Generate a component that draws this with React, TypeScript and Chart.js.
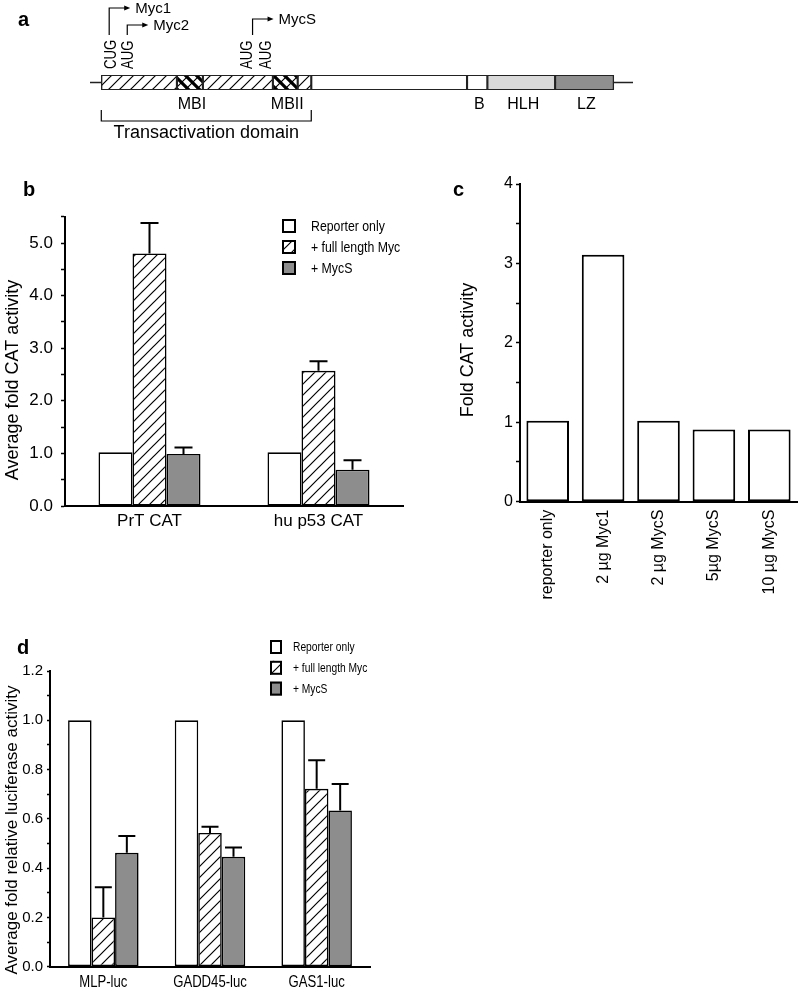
import React, { useEffect, useRef } from 'react';
import { Chart, registerables } from 'chart.js';

Chart.register(...registerables);

const SANS = 'Arial, "Liberation Sans", Helvetica, sans-serif';
const NARROW_SCALE = 0.82;
Chart.defaults.font.family = SANS;
Chart.defaults.color = '#000';

// ---------- Panel a: Myc protein schematic (positions in residues) ----------
const segmentStart = [0, 67, 90, 152, 174, 186, 324, 342, 402];
const segmentEnd = [67, 90, 152, 174, 186, 324, 342, 402, 454];
const segmentKind = ['hatch', 'motif', 'hatch', 'motif', 'hatch', 'plain', 'plain', 'light', 'dark'];
const segmentLabel = ['', 'MBI', '', 'MBII', '', '', 'B', 'HLH', 'LZ'];
const lineExtent = [-10, 471];
const codonLabels = ['CUG', 'AUG', 'AUG', 'AUG'];
const codonPos = [9, 24, 130, 146];
const productLabels = ['Myc1', 'Myc2', 'MycS'];
const productPos = [7, 23, 134];
const tadRange = [0, 186];
const tadLabel = 'Transactivation domain';

// ---------- Shared series ----------
const seriesNames = ['Reporter only', '+ full length Myc', '+ MycS'];

// ---------- Panel b ----------
const bCategories = ['PrT CAT', 'hu p53 CAT'];
const bReporter = [1.02, 1.02];
const bFull = [4.8, 2.57];
const bMycS = [0.99, 0.69];
const bFullErr = [0.58, 0.18];
const bMycSErr = [0.12, 0.18];
const bYMax = 5.5;
const bYStep = 0.5;
const bYTitle = 'Average fold CAT activity';

// ---------- Panel c ----------
const cCategories = ['reporter only', '2 \u00b5g Myc1', '2 \u00b5g MycS', '5\u00b5g MycS', '10 \u00b5g MycS'];
const cValues = [1.02, 3.11, 1.02, 0.91, 0.91];
const cYMax = 4;
const cYStep = 0.5;
const cYTitle = 'Fold CAT activity';

// ---------- Panel d ----------
const dCategories = ['MLP-luc', 'GADD45-luc', 'GAS1-luc'];
const dReporter = [1.0, 1.0, 1.0];
const dFull = [0.2, 0.543, 0.722];
const dMycS = [0.462, 0.446, 0.634];
const dFullErr = [0.122, 0.025, 0.116];
const dMycSErr = [0.068, 0.038, 0.107];
const dYMax = 1.2;
const dYStep = 0.1;
const dYTitle = 'Average fold relative luciferase activity';

const GRAY = '#8d8d8d';

function makePattern(kind: string): CanvasPattern {
  const s = 11;
  const c = document.createElement('canvas');
  c.width = s;
  c.height = s;
  const g = c.getContext('2d') as CanvasRenderingContext2D;
  g.fillStyle = '#fff';
  g.fillRect(0, 0, s, s);
  g.strokeStyle = '#000';
  g.lineWidth = 1.2;
  g.beginPath();
  g.moveTo(0, s);
  g.lineTo(s, 0);
  g.moveTo(-s / 2, s / 2);
  g.lineTo(s / 2, -s / 2);
  g.moveTo(s / 2, s * 1.5);
  g.lineTo(s * 1.5, s / 2);
  g.stroke();
  if (kind === 'motif') {
    g.lineWidth = 3.2;
    g.beginPath();
    g.moveTo(0, 0);
    g.lineTo(s, s);
    g.moveTo(-s / 2, s / 2);
    g.lineTo(s / 2, s * 1.5);
    g.moveTo(s / 2, -s / 2);
    g.lineTo(s * 1.5, s / 2);
    g.stroke();
  }
  return g.createPattern(c, 'repeat') as CanvasPattern;
}

// draw text, optionally condensed horizontally (narrow face) and rotated
function drawText(ctx: CanvasRenderingContext2D, t: string, x: number, y: number, font: string, align: CanvasTextAlign, sx = 1, rot = 0) {
  ctx.save();
  ctx.translate(x, y);
  if (rot) ctx.rotate(rot);
  if (sx !== 1) ctx.scale(sx, 1);
  ctx.font = font;
  ctx.fillStyle = '#000';
  ctx.textAlign = align;
  ctx.textBaseline = 'middle';
  ctx.fillText(t, 0, 0);
  ctx.restore();
}

type TextItem = { t: string; x: number; y: number; font: string; rot?: number; align?: CanvasTextAlign };

function textPlugin(items: TextItem[]) {
  return {
    id: 'texts',
    afterDraw(chart: any) {
      items.forEach((it) => drawText(chart.ctx, it.t, it.x, it.y, it.font, it.align || 'center', 1, it.rot || 0));
    },
  };
}

function legendPlugin(cfg: { x: number; y: number; dy: number; w: number; h: number; textX: number; font: string }) {
  return {
    id: 'boxLegend',
    afterDraw(chart: any) {
      const ctx = chart.ctx;
      chart.data.datasets.forEach((ds: any, i: number) => {
        const y = cfg.y + i * cfg.dy;
        ctx.save();
        ctx.fillStyle = ds.backgroundColor;
        ctx.fillRect(cfg.x, y, cfg.w, cfg.h);
        ctx.lineWidth = 2;
        ctx.strokeStyle = '#000';
        ctx.strokeRect(cfg.x + 1, y + 1, cfg.w - 2, cfg.h - 2);
        ctx.restore();
        drawText(ctx, ds.label, cfg.textX, y + cfg.h / 2 + 1, cfg.font, 'left', NARROW_SCALE);
      });
    },
  };
}

// category labels under a bar chart, drawn in a condensed face at the scale's tick positions
function narrowTickPlugin(font: string, dy: number) {
  return {
    id: 'narrowTicks',
    afterDraw(chart: any) {
      const xs = chart.scales.x;
      const labels = chart.data.labels as string[];
      labels.forEach((t, i) => {
        drawText(chart.ctx, t, xs.getPixelForValue(i), chart.chartArea.bottom + dy, font, 'center', NARROW_SCALE);
      });
    },
  };
}

function errorPlugin(cap: number) {
  return {
    id: 'errBars',
    afterDatasetsDraw(chart: any) {
      const ctx = chart.ctx;
      const ys = chart.scales.y;
      chart.data.datasets.forEach((ds: any, i: number) => {
        if (!ds.errors) return;
        const meta = chart.getDatasetMeta(i);
        meta.data.forEach((bar: any, j: number) => {
          const e = ds.errors[j];
          if (!e) return;
          const v = ds.data[j];
          const yTop = ys.getPixelForValue(v + e);
          const yBase = ys.getPixelForValue(v);
          ctx.save();
          ctx.strokeStyle = '#000';
          ctx.lineWidth = 2;
          ctx.beginPath();
          ctx.moveTo(bar.x, yBase);
          ctx.lineTo(bar.x, yTop);
          ctx.moveTo(bar.x - cap / 2, yTop);
          ctx.lineTo(bar.x + cap / 2, yTop);
          ctx.stroke();
          ctx.restore();
        });
      });
    },
  };
}

function isMultiple(v: number, step: number) {
  const r = v / step;
  return Math.abs(r - Math.round(r)) < 1e-6;
}

function yAxis(max: number, step: number, width: number, labelStep: number, decimals: number, fontSize: number, tickLen: number, pad: number) {
  return {
    min: 0,
    max,
    afterFit: (s: any) => {
      s.width = width;
    },
    border: { display: true, width: 2, color: '#000' },
    grid: {
      display: true,
      drawOnChartArea: false,
      drawTicks: true,
      tickLength: tickLen,
      tickWidth: 1.5,
      tickColor: '#000',
      color: '#000',
    },
    ticks: {
      stepSize: step,
      autoSkip: false,
      padding: pad,
      color: '#000',
      font: { family: SANS, size: fontSize },
      callback: (v: any) => (isMultiple(Number(v), labelStep) ? Number(v).toFixed(decimals) : ''),
    },
  };
}

function xAxis(height: number, font: any, pad: number, rot: number, showTicks = true) {
  return {
    afterFit: (s: any) => {
      s.height = height;
    },
    border: { display: true, width: 2, color: '#000' },
    grid: { display: false, drawTicks: false },
    ticks: { display: showTicks, padding: pad, color: '#000', font, autoSkip: false, minRotation: rot, maxRotation: rot },
  };
}

function groupedDatasets(reporter: number[], full: number[], mycs: number[], fullErr: number[], mycsErr: number[], catPct: number, hatch: CanvasPattern) {
  const common = { borderColor: '#000', borderWidth: 1.6, borderSkipped: false, barPercentage: 1, categoryPercentage: catPct };
  return [
    { ...common, label: seriesNames[0], data: reporter, backgroundColor: '#ffffff' },
    { ...common, label: seriesNames[1], data: full, backgroundColor: hatch, errors: fullErr },
    { ...common, label: seriesNames[2], data: mycs, backgroundColor: GRAY, errors: mycsErr },
  ];
}

const baseOptions = {
  responsive: false,
  animation: false,
  devicePixelRatio: 1,
  events: [],
};

function buildA(): any {
  const fills: Record<string, any> = {
    hatch: makePattern('hatch'),
    motif: makePattern('motif'),
    plain: '#ffffff',
    light: '#d9d9d9',
    dark: '#8f8f8f',
  };
  const ARROW_Y = [8, 25, 19];
  const schematic = {
    id: 'schematic',
    beforeDatasetsDraw(chart: any) {
      const ctx = chart.ctx;
      const xs = chart.scales.x;
      const { top, bottom } = chart.chartArea;
      const mid = (top + bottom) / 2;
      ctx.save();
      ctx.strokeStyle = '#222';
      ctx.lineWidth = 1.3;
      ctx.beginPath();
      ctx.moveTo(xs.getPixelForValue(lineExtent[0]), mid);
      ctx.lineTo(xs.getPixelForValue(lineExtent[1]), mid);
      ctx.stroke();
      ctx.restore();
    },
    afterDatasetsDraw(chart: any) {
      const ctx = chart.ctx;
      const xs = chart.scales.x;
      const { top, bottom } = chart.chartArea;
      // start codons (rotated, condensed)
      codonLabels.forEach((t, i) => {
        ctx.save();
        ctx.translate(xs.getPixelForValue(codonPos[i]), top - 6);
        ctx.rotate(-Math.PI / 2);
        ctx.scale(NARROW_SCALE, 1);
        ctx.font = '16px ' + SANS;
        ctx.fillStyle = '#000';
        ctx.textAlign = 'left';
        ctx.textBaseline = 'middle';
        ctx.fillText(t, 0, 0);
        ctx.restore();
      });
      ctx.save();
      ctx.fillStyle = '#000';
      ctx.strokeStyle = '#000';
      // products with arrows
      productLabels.forEach((t, i) => {
        const x = xs.getPixelForValue(productPos[i]);
        const y = ARROW_Y[i];
        const tip = x + 21;
        ctx.lineWidth = 1.2;
        ctx.beginPath();
        ctx.moveTo(x, top - 40);
        ctx.lineTo(x, y);
        ctx.lineTo(tip - 5, y);
        ctx.stroke();
        ctx.beginPath();
        ctx.moveTo(tip, y);
        ctx.lineTo(tip - 6, y - 2.5);
        ctx.lineTo(tip - 6, y + 2.5);
        ctx.closePath();
        ctx.fill();
        drawText(ctx, t, tip + 5, y + 1, '15px ' + SANS, 'left');
      });
      // domain labels
      segmentLabel.forEach((t, i) => {
        if (!t) return;
        const x = (xs.getPixelForValue(segmentStart[i]) + xs.getPixelForValue(segmentEnd[i])) / 2;
        drawText(ctx, t, x + 2, bottom + 15, '16px ' + SANS, 'center');
      });
      // bracket
      const x0 = xs.getPixelForValue(tadRange[0]);
      const x1 = xs.getPixelForValue(tadRange[1]);
      ctx.lineWidth = 1.2;
      ctx.beginPath();
      ctx.moveTo(x0, bottom + 20);
      ctx.lineTo(x0, bottom + 31);
      ctx.lineTo(x1, bottom + 31);
      ctx.lineTo(x1, bottom + 20);
      ctx.stroke();
      ctx.restore();
      drawText(ctx, tadLabel, (x0 + x1) / 2, bottom + 43, '18px ' + SANS, 'center');
    },
  };
  return {
    type: 'bar',
    data: {
      labels: ['Myc'],
      datasets: segmentStart.map((s, i) => ({
        label: segmentLabel[i] || segmentKind[i],
        data: [[s, segmentEnd[i]]],
        backgroundColor: fills[segmentKind[i]],
        borderColor: '#222',
        borderWidth: 1.4,
        borderSkipped: false,
        grouped: false,
        barPercentage: 1,
        categoryPercentage: 1,
      })),
    },
    options: {
      ...baseOptions,
      indexAxis: 'y',
      layout: { padding: { left: 90, right: 167, top: 75, bottom: 70 } },
      plugins: { legend: { display: false }, tooltip: { enabled: false } },
      scales: {
        x: { type: 'linear', min: lineExtent[0], max: lineExtent[1], display: false },
        y: { display: false },
      },
    },
    plugins: [schematic, textPlugin([{ t: 'a', x: 18, y: 20, font: 'bold 20px ' + SANS, align: 'left' }])],
  };
}

function buildB(): any {
  const hatch = makePattern('hatch');
  return {
    type: 'bar',
    data: { labels: bCategories, datasets: groupedDatasets(bReporter, bFull, bMycS, bFullErr, bMycSErr, 0.6036, hatch) },
    options: {
      ...baseOptions,
      layout: { padding: { left: 0, right: 17, top: 46.7, bottom: 0 } },
      plugins: { legend: { display: false }, tooltip: { enabled: false } },
      scales: {
        x: xAxis(34, { family: SANS, size: 17 }, 5, 0),
        y: yAxis(bYMax, bYStep, 65, 1, 1, 17, 4, 8),
      },
    },
    plugins: [
      errorPlugin(18),
      legendPlugin({ x: 282, y: 49, dy: 21, w: 14, h: 14, textX: 311, font: '15px ' + SANS }),
      textPlugin([
        { t: 'b', x: 23, y: 20, font: 'bold 20px ' + SANS, align: 'left' },
        { t: bYTitle, x: 13, y: 210, font: '18px ' + SANS, rot: -Math.PI / 2 },
      ]),
    ],
  };
}

function buildC(): any {
  return {
    type: 'bar',
    data: {
      labels: cCategories,
      datasets: [
        {
          label: 'Fold CAT activity',
          data: cValues,
          backgroundColor: '#ffffff',
          borderColor: '#000',
          borderWidth: 2,
          borderSkipped: false,
          barPercentage: 0.769,
          categoryPercentage: 1,
        },
      ],
    },
    options: {
      ...baseOptions,
      layout: { padding: { left: 0, right: 3, top: 14, bottom: 0 } },
      plugins: { legend: { display: false }, tooltip: { enabled: false } },
      scales: {
        x: xAxis(118.3, { family: SANS, size: 16 }, 8, 90),
        y: yAxis(cYMax, cYStep, 100, 1, 0, 16, 4, 3),
      },
    },
    plugins: [
      textPlugin([
        { t: 'c', x: 33, y: 20, font: 'bold 20px ' + SANS, align: 'left' },
        { t: cYTitle, x: 48, y: 180, font: '18px ' + SANS, rot: -Math.PI / 2 },
      ]),
    ],
  };
}

function buildD(): any {
  const hatch = makePattern('hatch');
  return {
    type: 'bar',
    data: { labels: dCategories, datasets: groupedDatasets(dReporter, dFull, dMycS, dFullErr, dMycSErr, 0.661, hatch) },
    options: {
      ...baseOptions,
      layout: { padding: { left: 0, right: 50, top: 111, bottom: 0 } },
      plugins: { legend: { display: false }, tooltip: { enabled: false } },
      scales: {
        x: xAxis(25.3, { family: SANS, size: 15 }, 6, 0, false),
        y: yAxis(dYMax, dYStep, 50, 0.2, 1, 15, 3, 4),
      },
    },
    plugins: [
      errorPlugin(17),
      narrowTickPlugin('16px ' + SANS, 16),
      legendPlugin({ x: 270, y: 80, dy: 20.8, w: 12, h: 14, textX: 293, font: '12.5px ' + SANS }),
      textPlugin([
        { t: 'd', x: 17, y: 88, font: 'bold 20px ' + SANS, align: 'left' },
        { t: dYTitle, x: 12, y: 270, font: '17px ' + SANS, rot: -Math.PI / 2 },
      ]),
    ],
  };
}

function Panel({ left, top, width, height, build }: { left: number; top: number; width: number; height: number; build: () => any }) {
  const ref = useRef<HTMLCanvasElement>(null);
  useEffect(() => {
    const chart = new Chart(ref.current as HTMLCanvasElement, build());
    return () => chart.destroy();
  }, []);
  return (
    <canvas
      ref={ref}
      width={width}
      height={height}
      style={{ position: 'absolute', left, top, width, height, display: 'block' }}
    />
  );
}

export default function App() {
  return (
    <div style={{ position: 'absolute', left: 0, top: 0, width: 800, height: 992, background: '#fff', overflow: 'hidden' }}>
      <Panel left={0} top={0} width={800} height={160} build={buildA} />
      <Panel left={0} top={170} width={420} height={370} build={buildB} />
      <Panel left={420} top={170} width={380} height={450} build={buildC} />
      <Panel left={0} top={560} width={420} height={432} build={buildD} />
    </div>
  );
}
